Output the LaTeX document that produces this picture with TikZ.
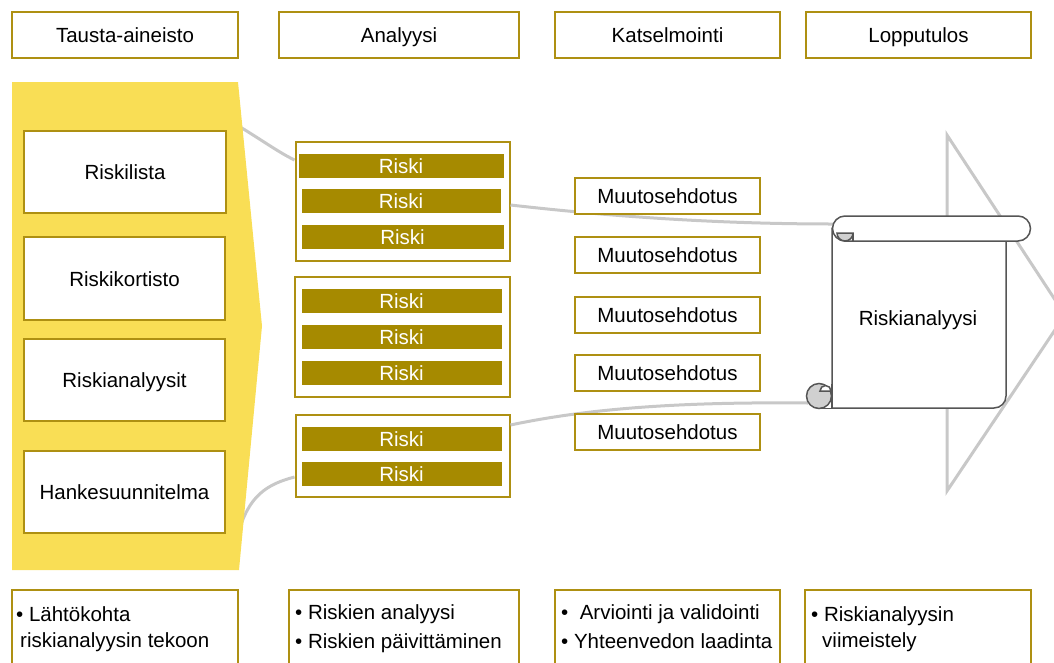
\documentclass[tikz,border=0pt]{standalone}
\usepackage{fontspec}
\setmainfont{Liberation Sans}
\definecolor{gold}{HTML}{AE9012}
\definecolor{riskfill}{HTML}{A68A00}
\definecolor{yel}{HTML}{F9DE55}
\definecolor{conn}{HTML}{C8C8C8}
\definecolor{scrolledge}{HTML}{555555}
\definecolor{curl}{HTML}{D0D0D0}
\begin{document}
\begin{tikzpicture}[x=1pt,y=-1pt,
  font=\fontsize{20.5}{27}\selectfont,
  goldbox/.style={draw=gold,line width=2pt,fill=white,inner sep=0pt,align=center,text height=18,text depth=3},
  riskbar/.style={fill=riskfill,draw=white,line width=0.6pt,text=white,inner sep=0pt,minimum height=25,text height=18,text depth=3},
  muut/.style={goldbox,minimum width=185,minimum height=36},
  connector/.style={draw=conn,line width=3pt},
  notebox/.style={draw=gold,line width=2pt,fill=white,inner sep=0pt},
  notetext/.style={anchor=base west,inner sep=0pt}
]
\useasboundingbox (0,0) rectangle (1054,662);
% headers
\node[goldbox,minimum width=226,minimum height=46] (h1) at (125,35) {Tausta-aineisto};
\node[goldbox,minimum width=240,minimum height=46] (h2) at (399,35) {Analyysi};
\node[goldbox,minimum width=225,minimum height=46] (h3) at (667.5,35) {Katselmointi};
\node[goldbox,minimum width=225,minimum height=46] (h4) at (918.5,35) {Lopputulos};

\coordinate (c1s) at (232,122);
\coordinate (c2s) at (238,535);
% big arrow outline
\draw[conn,line width=3pt] (947,135) -- (1065,315) -- (947,491) -- cycle;

% group boxes
\node[goldbox,minimum width=214,minimum height=119] (g1) at (402.5,201.5) {};
\node[goldbox,minimum width=215,minimum height=120] (g2) at (402.5,337) {};
\node[goldbox,minimum width=214,minimum height=82] (g3) at (402.5,456) {};

\draw[connector] (c1s) .. controls (262,140) and (278,152) .. (g1.west |- 0,160);
\draw[connector] (c2s) .. controls (248,495) and (268,484) .. (g3.west |- 0,477);

% yellow shape
\fill[yel] (12,82) -- (238,82) -- (262,326) -- (239,570) -- (12,570) -- cycle;

\node[goldbox,minimum width=202,minimum height=82] (b1) at (125,172) {Riskilista};
\node[goldbox,minimum width=201,minimum height=83] (b2) at (124.5,278.5) {Riskikortisto};
\node[goldbox,minimum width=201,minimum height=82] (b3) at (124.5,380) {Riskianalyysit};
\node[goldbox,minimum width=201,minimum height=82] (b4) at (124.5,492) {Hankesuunnitelma};

% risk bars
\node[riskbar,minimum width=206] (r11) at (401,165.5) {Riski};
\node[riskbar,minimum width=200] (r12) at (401,201) {Riski};
\node[riskbar,minimum width=203] (r13) at (402.5,237) {Riski};
\node[riskbar,minimum width=201] (r21) at (401.5,301) {Riski};
\node[riskbar,minimum width=201] (r22) at (401.5,336.5) {Riski};
\node[riskbar,minimum width=201] (r23) at (401.5,373) {Riski};
\node[riskbar,minimum width=201] (r31) at (401.5,438.5) {Riski};
\node[riskbar,minimum width=201] (r32) at (401.5,473.5) {Riski};

% scroll anchors
\coordinate (sc1) at (834,224);
\coordinate (sc2) at (808,403);
\draw[connector] (g1.east |- 0,205) .. controls (590,214) and (700,224) .. (sc1);
\draw[connector] (g3.east |- 0,425) .. controls (600,406) and (700,402) .. (sc2);

% muutosehdotus
\node[muut] (m1) at (667.5,196) {Muutosehdotus};
\node[muut] (m2) at (667.5,255) {Muutosehdotus};
\node[muut] (m3) at (667.5,314.5) {Muutosehdotus};
\node[muut] (m4) at (667.5,373) {Muutosehdotus};
\node[muut] (m5) at (667.5,432) {Muutosehdotus};

% scroll
\begin{scope}[draw=scrolledge,line width=1.5pt]
  % body
  \filldraw[fill=white] (832,229) -- (832,396) -- (832,408) -- (994,408) arc[start angle=90,end angle=0,radius=12] -- (1006,241) -- (845,241) -- cycle;
  % top roll
  \filldraw[fill=white] (845,216) -- (1018,216) arc[start angle=-90,end angle=90,radius=12.5] -- (845,241) arc[start angle=90,end angle=270,radius=12.5] -- cycle;
  % top-left curl
  \filldraw[fill=curl] (837,233) arc[start angle=180,end angle=0,radius=8] -- cycle;
  \draw (853,233) -- (853,241);
  % bottom curl
  \filldraw[fill=curl] (819,396) circle[radius=12.5];
  \filldraw[fill=white] (820,391) arc[start angle=180,end angle=360,radius=5.5] -- cycle;
  \draw (819,408.5) -- (832,408.5) -- (832,384);
\end{scope}
\node (scrolltxt) at (918,320) {Riskianalyysi};

% bottom notes
\path[notebox] (12,590) rectangle (238,670);
\path[notebox] (289,590) rectangle (519,670);
\path[notebox] (555,590) rectangle (780,670);
\path[notebox] (805,590) rectangle (1031,670);
\node[notetext] (n1a) at (16,621) {\textbullet\ Lähtökohta};
\node[notetext] (n1b) at (20,647) {riskianalyysin tekoon};
\node[notetext] (n2a) at (295,619) {\textbullet\ Riskien analyysi};
\node[notetext] (n2b) at (295,648) {\textbullet\ Riskien päivittäminen};
\node[notetext] (n3a) at (561,619) {\textbullet\ \ Arviointi ja validointi};
\node[notetext] (n3b) at (561,648) {\textbullet\ Yhteenvedon laadinta};
\node[notetext] (n4a) at (811,621) {\textbullet\ Riskianalyysin};
\node[notetext] (n4b) at (822,647) {viimeistely};
\end{tikzpicture}
\end{document}
